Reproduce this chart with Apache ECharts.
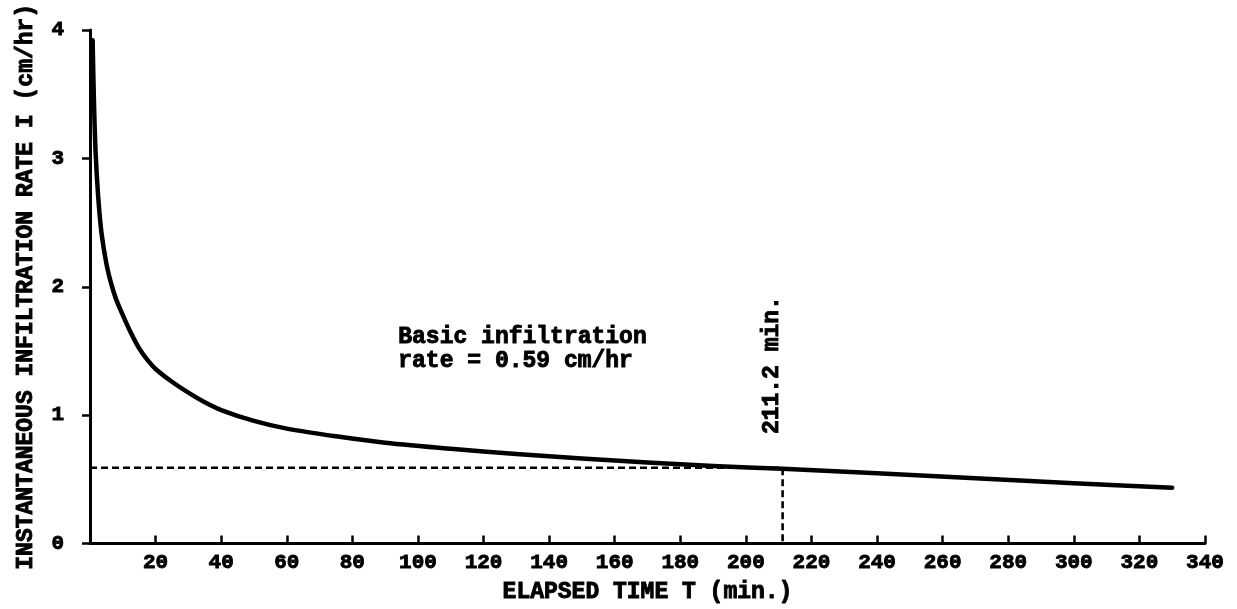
<!DOCTYPE html>
<html><head><meta charset="utf-8">
<script src="https://cdn.jsdelivr.net/npm/echarts@6/dist/echarts.min.js"></script>
<style>html,body{margin:0;padding:0;background:#fff}#c{width:1237px;height:609px}</style>
</head><body><div id="c"></div>
<script>
// Elapsed time T (min.) and instantaneous infiltration rate I (cm/hr)
const timeMin = [0.8, 1.2, 1.7, 2.5, 3.5, 5, 6.5, 8, 10, 12.5, 15, 17.5, 20, 25, 30, 35, 40, 50, 60, 75, 90, 110, 130, 150, 170, 190, 211.2, 240, 270, 300, 330];
const rate    = [3.92, 3.45, 3.05, 2.70, 2.42, 2.18, 2.02, 1.90, 1.78, 1.64, 1.52, 1.43, 1.36, 1.26, 1.175, 1.10, 1.04, 0.955, 0.895, 0.835, 0.785, 0.738, 0.698, 0.663, 0.632, 0.604, 0.582, 0.547, 0.508, 0.470, 0.435];
const xTickLabels = [20, 40, 60, 80, 100, 120, 140, 160, 180, 200, 220, 240, 260, 280, 300, 320, 340];
const yTickLabels = [0, 1, 2, 3, 4];
const basicRate = 0.59;
const crossTime = 211.2;
const noteLines = ['Basic infiltration', 'rate = 0.59 cm/hr'];
const crossLabel = '211.2 min.';
const xName = 'ELAPSED TIME T (min.)';
const yName = 'INSTANTANEOUS INFILTRATION RATE I (cm/hr)';

const FONT = '"Liberation Mono", "DejaVu Sans Mono", monospace';
const txt = {fontFamily: FONT, fontWeight: 'bold', color: '#000', textBorderColor: '#000', textBorderWidth: 0.9};

const chart = echarts.init(document.getElementById('c'), null, {renderer: 'canvas'});
const curve = timeMin.map((t, i) => [t, rate[i]]);
const guide = [[0, basicRate], [crossTime, basicRate], [crossTime, 0]];

chart.setOption({
  animation: false,
  backgroundColor: '#fff',
  grid: {left: 90, right: 32, top: 30, bottom: 64, containLabel: false},
  xAxis: {
    type: 'value', min: 0, max: xTickLabels[xTickLabels.length - 1], interval: 20,
    name: xName, nameLocation: 'middle', nameGap: 37,
    nameTextStyle: Object.assign({fontSize: 23}, txt),
    axisLine: {show: true, onZero: false, lineStyle: {color: '#000', width: 3}},
    axisTick: {show: true, inside: true, length: 8, lineStyle: {color: '#000', width: 2.5}},
    axisLabel: Object.assign({fontSize: 21, margin: 9, formatter: v => xTickLabels.includes(v) ? String(v) : ''}, txt),
    splitLine: {show: false}
  },
  yAxis: {
    type: 'value', min: 0, max: yTickLabels[yTickLabels.length - 1], interval: 1,
    name: yName, nameLocation: 'middle', nameGap: 52,
    nameTextStyle: Object.assign({fontSize: 23}, txt),
    axisLine: {show: true, lineStyle: {color: '#000', width: 3}},
    axisTick: {show: true, inside: false, length: 8, lineStyle: {color: '#000', width: 2.5}},
    axisLabel: Object.assign({fontSize: 21, margin: 26, formatter: v => yTickLabels.includes(v) ? String(v) : ''}, txt),
    splitLine: {show: false}
  },
  series: [
    {
      type: 'line', data: guide, symbol: 'none', silent: true,
      lineStyle: {color: '#000', width: 2.6, type: [7, 4]}
    },
    {
      type: 'line', data: curve, symbol: 'none', smooth: 0.3, silent: true,
      lineStyle: {color: '#000', width: 4.5, cap: 'round', join: 'round'}
    }
  ]
});

function place() {
  const p1 = chart.convertToPixel({xAxisIndex: 0, yAxisIndex: 0}, [94, 1.70]);
  const p2 = chart.convertToPixel({xAxisIndex: 0, yAxisIndex: 0}, [208, 1.39]);
  const st = {fontFamily: FONT, fontWeight: 'bold', fontSize: 23, fill: '#000', stroke: '#000', lineWidth: 0.9};
  chart.setOption({
    graphic: [
      {type: 'text', x: p1[0], y: p1[1], silent: true,
       style: Object.assign({text: noteLines.join('\n'), lineHeight: 24, textAlign: 'left', textVerticalAlign: 'top'}, st)},
      {type: 'text', x: p2[0], y: p2[1], rotation: Math.PI / 2, silent: true,
       style: Object.assign({text: crossLabel, textAlign: 'center', textVerticalAlign: 'middle'}, st)}
    ]
  });
}
place();
</script>
</body></html>
